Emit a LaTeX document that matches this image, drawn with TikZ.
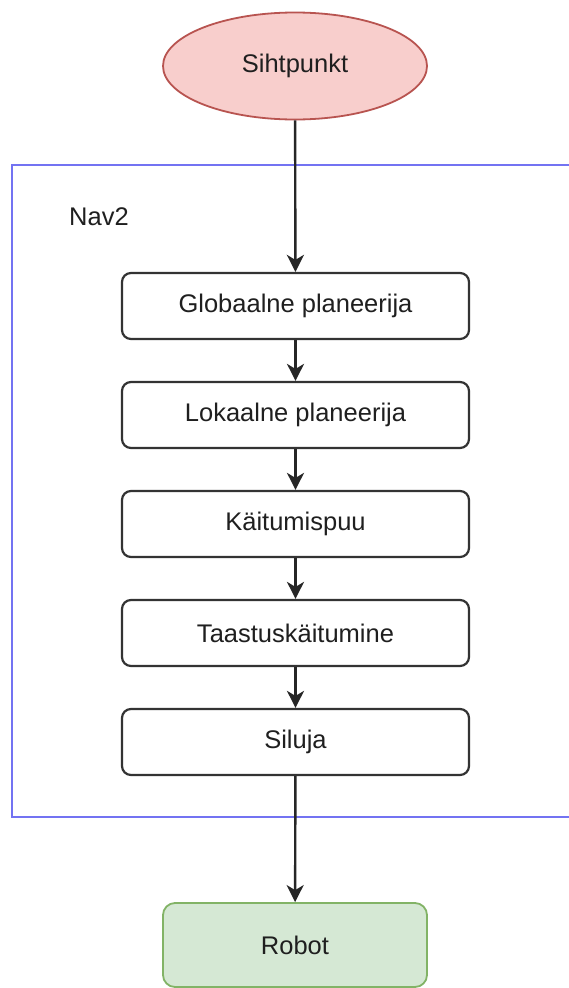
\documentclass[tikz,border=0pt]{standalone}
\usepackage{fontspec}
\setmainfont{Liberation Sans}
\usetikzlibrary{shapes.geometric,arrows.meta}
\definecolor{redfill}{HTML}{F8CECC}
\definecolor{redline}{HTML}{B85450}
\definecolor{greenfill}{HTML}{D5E8D4}
\definecolor{greenline}{HTML}{82B366}
\definecolor{frameblue}{HTML}{7373F2}
\definecolor{boxline}{HTML}{333333}
\tikzset{
  lbl/.style={font=\fontsize{25.5}{30}\selectfont, text=black!88},
  stepbox/.style={lbl, draw=boxline, line width=2.2pt, fill=white, rounded corners=9pt,
    minimum width=347pt, minimum height=66pt, inner sep=0pt},
  goal/.style={lbl, ellipse, draw=redline, fill=redfill, line width=1.8pt,
    minimum width=264pt, minimum height=107pt, inner sep=0pt},
  robotbox/.style={lbl, draw=greenline, fill=greenfill, line width=1.8pt, rounded corners=12pt,
    minimum width=264pt, minimum height=84pt, inner sep=0pt},
  flow/.style={draw=black!85, line width=2.4pt, -{Stealth[length=17pt,width=17pt,inset=5pt]}},
  frame/.style={draw=frameblue, line width=2.8pt}
}
\begin{document}
\begin{tikzpicture}[x=1pt,y=-1pt]
\useasboundingbox (0,0) rectangle (569,988);
\clip (0,0) rectangle (569,988);
\fill[white] (0,0) rectangle (569,988);
% Nav2 frame
\coordinate (ftr) at (600,165);
\coordinate (ftl) at (12,165);
\coordinate (fbl) at (12,817);
\coordinate (fbr) at (600,817);
\draw[frame] (ftr) -- (ftl) -- (fbl) -- (fbr);
\node[lbl] (nav) at (99,217) {Nav2};
% nodes
\node[goal] (goal) at (295,66) {Sihtpunkt};
\node[stepbox] (b1) at (295.5,306) {Globaalne planeerija};
\node[stepbox] (b2) at (295.5,415) {Lokaalne planeerija};
\node[stepbox] (b3) at (295.5,524) {Käitumispuu};
\node[stepbox] (b4) at (295.5,633) {Taastuskäitumine};
\node[stepbox] (b5) at (295.5,742) {Siluja};
\node[robotbox] (robot) at (295,945) {Robot};
% connectors
\draw[flow] (goal) -- (b1);
\draw[flow] (b1) -- (b2);
\draw[flow] (b2) -- (b3);
\draw[flow] (b3) -- (b4);
\draw[flow] (b4) -- (b5);
\draw[flow] (b5) -- (robot);
\end{tikzpicture}
\end{document}
